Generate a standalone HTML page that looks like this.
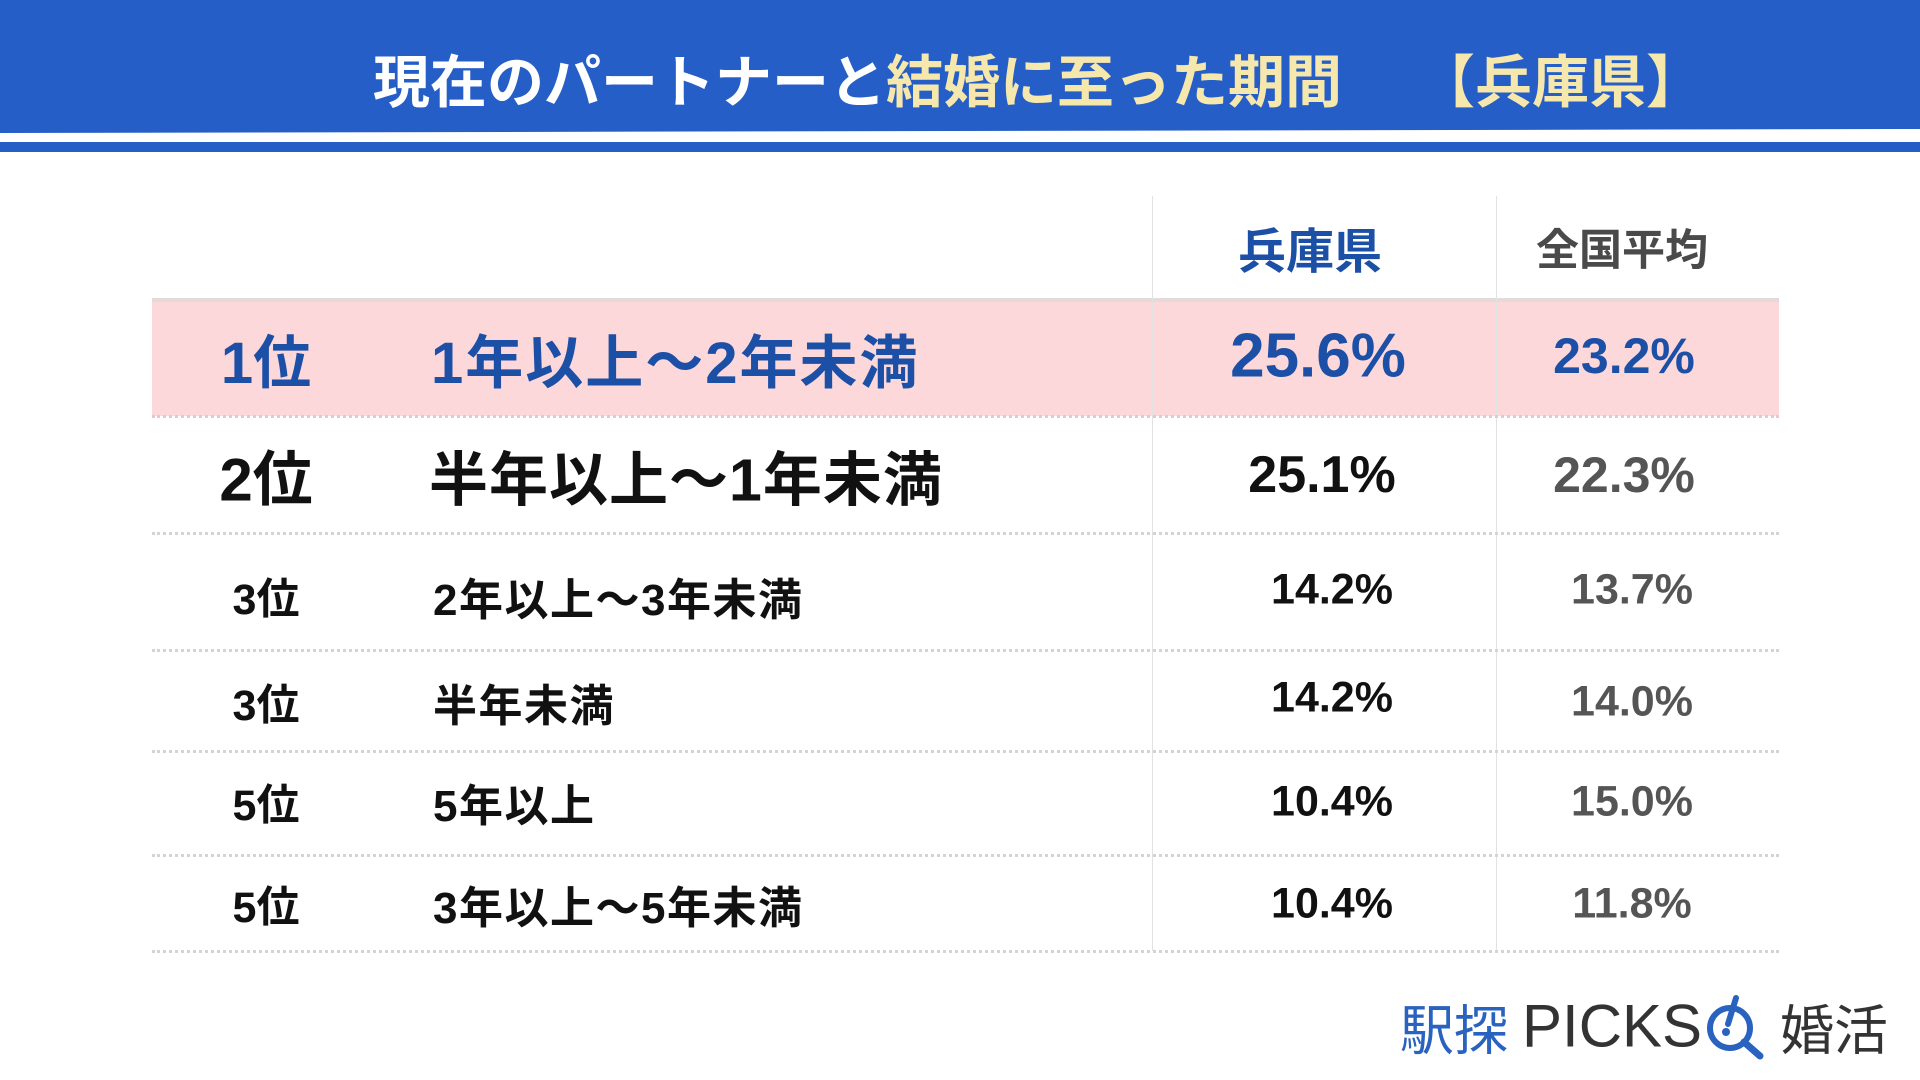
<!DOCTYPE html>
<html><head><meta charset="utf-8"><style>
*{margin:0;padding:0;box-sizing:border-box}
body{width:1920px;height:1080px;background:#fff;position:relative;overflow:hidden;font-family:"Liberation Sans","Noto Sans CJK JP",sans-serif;font-weight:bold}
.a{position:absolute;white-space:nowrap}
.c{transform:translate(-50%,-50%)}
.l{transform:translateY(-50%)}
.vl{position:absolute;top:196px;height:755px;width:1px;background:#e2e2e2}
.dl{position:absolute;left:152px;width:1627px;height:0;border-top:3px dotted #d4d4d4}
</style></head><body>
<div class="a" style="left:0;top:0;width:1920px;height:131px;background:#265ec8"></div>
<svg class="a" style="left:0;top:128px" width="1920" height="26"><rect x="0" y="0" width="1920" height="26" fill="#265ec8"/><polygon points="0,5 1920,1 1920,14 0,14" fill="#fff"/><rect x="0" y="24" width="1920" height="2" fill="#fff"/></svg>
<div class="a l" style="left:373px;top:78px;font-size:57px;color:#fff;font-family:'Noto Sans CJK JP',sans-serif">現在のパートナーと<span style="color:#f6e7ad">結婚に至った期間</span></div>
<div class="a l" style="left:1418px;top:78px;font-size:57px;color:#f6e7ad;font-family:'Noto Sans CJK JP',sans-serif">【兵庫県】</div>

<div class="a" style="left:152px;top:298px;width:1627px;height:118px;background:#fcd8da;border-top:4px solid #e4dada"></div>
<div class="vl" style="left:1152px"></div>
<div class="vl" style="left:1496px"></div>
<div class="dl" style="top:415px;border-color:#e6c8ca"></div>
<div class="dl" style="top:532px"></div>
<div class="dl" style="top:649px"></div>
<div class="dl" style="top:750px"></div>
<div class="dl" style="top:854px"></div>
<div class="dl" style="top:950px"></div>

<div class="a c" style="left:1310px;top:247px;font-size:48px;color:#1c4fa6">兵庫県</div>
<div class="a c" style="left:1622px;top:247px;font-size:43px;color:#4a4a4a">全国平均</div>

<div class="a c" style="left:266px;top:358px;font-size:58px;color:#1c4fa6">1位</div>
<div class="a l" style="left:431px;top:358px;font-size:58px;letter-spacing:2px;color:#1c4fa6">1年以上～2年未満</div>
<div class="a c" style="left:1318px;top:356px;font-size:62px;color:#1c4fa6">25.6%</div>
<div class="a c" style="left:1624px;top:356px;font-size:50px;color:#1c4fa6">23.2%</div>

<div class="a c" style="left:266px;top:475px;font-size:60px;color:#111">2位</div>
<div class="a l" style="left:429px;top:475px;font-size:59px;letter-spacing:1px;color:#111">半年以上～1年未満</div>
<div class="a c" style="left:1322px;top:475px;font-size:52px;color:#111">25.1%</div>
<div class="a c" style="left:1624px;top:475px;font-size:50px;color:#555">22.3%</div>

<div class="a c" style="left:266px;top:596px;font-size:43px;color:#111">3位</div>
<div class="a l" style="left:433px;top:596px;font-size:44px;letter-spacing:1.5px;color:#111">2年以上～3年未満</div>
<div class="a c" style="left:1332px;top:590px;font-size:43px;color:#111">14.2%</div>
<div class="a c" style="left:1632px;top:590px;font-size:43px;color:#555">13.7%</div>

<div class="a c" style="left:266px;top:702px;font-size:43px;color:#111">3位</div>
<div class="a l" style="left:433px;top:702px;font-size:44px;letter-spacing:1.5px;color:#111">半年未満</div>
<div class="a c" style="left:1332px;top:698px;font-size:43px;color:#111">14.2%</div>
<div class="a c" style="left:1632px;top:702px;font-size:43px;color:#555">14.0%</div>

<div class="a c" style="left:266px;top:802px;font-size:43px;color:#111">5位</div>
<div class="a l" style="left:433px;top:802px;font-size:44px;letter-spacing:1.5px;color:#111">5年以上</div>
<div class="a c" style="left:1332px;top:802px;font-size:43px;color:#111">10.4%</div>
<div class="a c" style="left:1632px;top:802px;font-size:43px;color:#555">15.0%</div>

<div class="a c" style="left:266px;top:904px;font-size:43px;color:#111">5位</div>
<div class="a l" style="left:433px;top:904px;font-size:44px;letter-spacing:1.5px;color:#111">3年以上～5年未満</div>
<div class="a c" style="left:1332px;top:904px;font-size:43px;color:#111">10.4%</div>
<div class="a c" style="left:1632px;top:904px;font-size:43px;color:#555">11.8%</div>

<div class="a l" style="left:1400px;top:1026px;font-size:54px;font-weight:normal;color:#2a62bf">駅探</div>
<div class="a l" style="left:1522px;top:1026px;font-size:60px;font-weight:normal;color:#333">PICKS</div>
<svg class="a" style="left:1702px;top:992px" width="64" height="68"><circle cx="28" cy="36" r="20" fill="none" stroke="#2a62bf" stroke-width="6"/><line x1="42" y1="50" x2="58" y2="64" stroke="#2a62bf" stroke-width="7" stroke-linecap="round"/><line x1="34" y1="6" x2="26" y2="32" stroke="#2a62bf" stroke-width="6" stroke-linecap="round"/><circle cx="24" cy="40" r="4" fill="#2a62bf"/></svg>
<div class="a l" style="left:1780px;top:1026px;font-size:54px;font-weight:normal;color:#333">婚活</div>
</body></html>
